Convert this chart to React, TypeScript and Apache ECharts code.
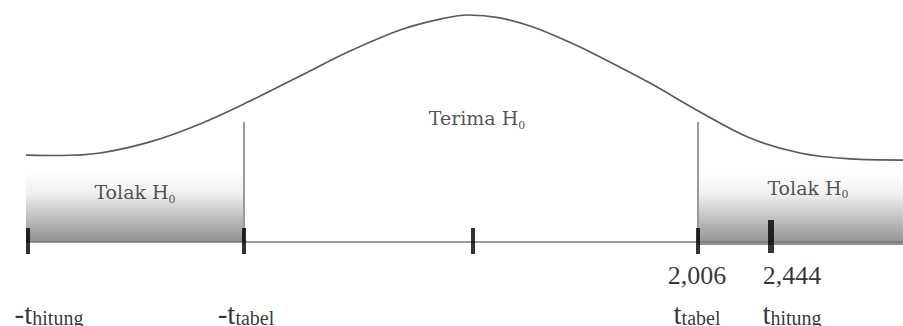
import React, { useEffect, useRef } from "react";
import * as echarts from "echarts";

// Schematic horizontal position (0..100) and curve height (peak = 100)
const curveX = [2.88, 6.64, 11.07, 16.61, 22.15, 27.69, 33.22, 38.76, 44.3, 48.73, 51.83, 55.37, 59.02, 62.79, 66.45, 71.98, 77.52, 83.06, 88.59, 94.13, 100];
const curveY = [38.3, 38.1, 39.2, 44.1, 52.0, 62.1, 73.1, 84.1, 93.4, 98.2, 100, 98.7, 94.7, 88.5, 81.5, 70.0, 57.3, 45.8, 39.2, 36.6, 36.1];

// Markers on the axis
const markerNames = ["-t_hitung", "-t_tabel", "0", "t_tabel", "t_hitung"];
const markerPositions = [3.1, 27.02, 52.38, 77.3, 85.38];
const markerValues = ["", "", "", "2,006", "2,444"];

// Regions
const regionNames = ["Tolak H0", "Terima H0", "Tolak H0"];
const regionCenters = [14.95, 52.82, 89.48];
const regionHeights = [22.0, 54.6, 23.8];

const SHADE_TOP = 30.8;
const CRIT_LINE_TOP = 52.9;
const LABEL_Y = -22.5;
const AXIS_START = 2.88;

const SERIF = "'Liberation Serif', 'Times New Roman', serif";
const REGION_FONT = "'DejaVu Serif', serif";

function markerLabel(i: number): string {
  const name = markerNames[i];
  if (name === "0") return "";
  const neg = name.startsWith("-");
  const sub = name.replace("-", "").replace("t_", "");
  const num = markerValues[i] ? markerValues[i] : " ";
  return `{num|${num}}\n{t|${neg ? "-t" : "t"}}{sub|${sub}}`;
}

const labelDx = [21, 2, 0, -1, 21];

export default function App() {
  const ref = useRef<HTMLDivElement>(null);
  useEffect(() => {
    if (!ref.current) return;
    const chart = echarts.init(ref.current, null, { renderer: "svg" });
    const shadeGradient = new echarts.graphic.LinearGradient(0, 0, 0, 1, [
      { offset: 0, color: "#ffffff" },
      { offset: 0.3, color: "#f0f0f0" },
      { offset: 1, color: "#8e8e8e" },
    ]);
    const option: any = {
      animation: false,
      backgroundColor: "#ffffff",
      grid: { left: 0, right: 0, top: 0, bottom: 0 },
      xAxis: { type: "value", min: 0, max: 100, show: false },
      yAxis: { type: "value", min: -37, max: 106.6, show: false },
      series: [
        {
          type: "line",
          name: "axis",
          data: [
            [AXIS_START, 0],
            [100, 0],
          ],
          symbol: "none",
          lineStyle: { color: "#7a7a7a", width: 1.5 },
          z: 3,
          markArea: {
            silent: true,
            itemStyle: { color: shadeGradient },
            data: [
              [{ xAxis: AXIS_START, yAxis: 0 }, { xAxis: markerPositions[1], yAxis: SHADE_TOP }],
              [{ xAxis: markerPositions[3], yAxis: -1.3 }, { xAxis: 100, yAxis: SHADE_TOP }],
            ],
          },
          markLine: {
            silent: true,
            symbol: "none",
            label: { show: false },
            lineStyle: { color: "#9a9a9a", width: 2, type: "solid" },
            data: [
              [{ coord: [markerPositions[1], 0] }, { coord: [markerPositions[1], CRIT_LINE_TOP] }],
              [{ coord: [markerPositions[3], 0] }, { coord: [markerPositions[3], CRIT_LINE_TOP] }],
            ],
          },
        },
        {
          type: "line",
          name: "curve",
          data: curveX.map((x, i) => [x, curveY[i]]),
          smooth: 0.35,
          symbol: "none",
          lineStyle: { color: "#5a5a5a", width: 1.7 },
          z: 4,
        },
        {
          type: "scatter",
          name: "ticks",
          data: markerPositions.map((p, i) => ({
            value: [p, 0],
            symbolSize: i === 4 ? [6, 33] : [4, 26],
            symbolOffset: i === 4 ? [0, -5.5] : [0, -1],
          })),
          symbol: "rect",
          itemStyle: { color: "#000000" },
          z: 6,
        },
        {
          type: "scatter",
          name: "markerLabels",
          symbolSize: 0,
          data: markerPositions.map((p, i) => ({
            value: [p, LABEL_Y],
            label: { offset: [labelDx[i], 0] },
          })),
          label: {
            show: true,
            position: "inside",
            formatter: (params: any) => markerLabel(params.dataIndex),
            rich: {
              num: { fontFamily: SERIF, fontSize: 26, color: "#000", lineHeight: 34 },
              t: { fontFamily: SERIF, fontSize: 29, color: "#000", lineHeight: 36, verticalAlign: "bottom" },
              sub: { fontFamily: SERIF, fontSize: 20, color: "#000", lineHeight: 28, verticalAlign: "bottom" },
            },
          },
          z: 7,
        },
        {
          type: "scatter",
          name: "regionLabels",
          symbolSize: 0,
          data: regionCenters.map((c, i) => [c, regionHeights[i]]),
          label: {
            show: true,
            position: "inside",
            formatter: (params: any) => {
              const n = regionNames[params.dataIndex];
              return `{m|${n.slice(0, -1)}}{s|${n.slice(-1)}}`;
            },
            rich: {
              m: { fontFamily: REGION_FONT, fontSize: 19, color: "#262626", lineHeight: 24 },
              s: { fontFamily: REGION_FONT, fontSize: 11, color: "#262626", lineHeight: 12, padding: [14, 0, 0, 0] },
            },
          },
          z: 8,
        },
      ],
    };
    chart.setOption(option);
    return () => chart.dispose();
  }, []);
  return (
    <div
      ref={ref}
      style={{ position: "absolute", left: 0, top: 0, width: 903, height: 326, background: "#fff" }}
    />
  );
}
